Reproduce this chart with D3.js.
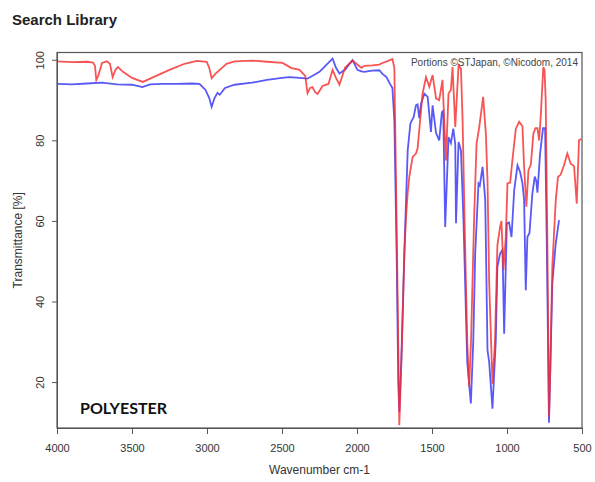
<!DOCTYPE html>
<html>
<head>
<meta charset="utf-8">
<script src="https://cdn.jsdelivr.net/npm/d3@7"></script>
<style>
  body { margin: 0; background: #fff; }
  text { font-family: "Liberation Sans", Arial, sans-serif; }
</style>
</head>
<body>
<div id="chart"></div>
<script>
// wavenumber (cm-1) and transmittance (%)
var sampleWave = [4000, 3900, 3800, 3760, 3747, 3738, 3725, 3700, 3667, 3647, 3629, 3610, 3594, 3560, 3500, 3428, 3350, 3250, 3150, 3068,
  3002, 2985, 2969, 2945, 2915, 2870, 2816, 2700, 2600, 2496, 2440, 2383, 2345, 2330, 2313, 2297, 2280, 2263, 2230, 2190,
  2163, 2140, 2117, 2080, 2030, 2000, 1971, 1950, 1900, 1851, 1831, 1800, 1764, 1751, 1740, 1725, 1718, 1700, 1684, 1673,
  1662, 1651, 1640, 1629, 1607, 1596, 1585, 1563, 1540, 1518, 1496, 1473, 1452, 1430, 1407, 1390, 1374, 1363, 1345, 1323,
  1307, 1296, 1280, 1265, 1252, 1240, 1219, 1203, 1185, 1159, 1141, 1130, 1119, 1097, 1080, 1064, 1046, 1037, 1024, 1008,
  997, 979, 964, 941, 919, 897, 886, 871, 857, 841, 824, 810, 797, 786, 775, 758, 750, 742, 731, 720,
  710, 698, 675, 660, 642, 620, 598, 575, 553, 535, 520, 505];
var sampleT = [99.6, 99.4, 99.5, 99.3, 98.5, 95.0, 96.0, 99.2, 99.6, 99.0, 95.7, 97.5, 98.2, 97.0, 95.5, 94.5, 95.8, 97.5, 99.0, 99.7,
  99.5, 98.0, 95.4, 96.5, 97.5, 99.0, 99.6, 99.8, 99.5, 99.2, 98.0, 97.5, 96.0, 91.7, 93.0, 93.2, 92.0, 91.5, 93.5, 94.0,
  97.5, 95.5, 93.8, 98.0, 99.8, 98.9, 98.0, 98.5, 98.6, 98.8, 99.2, 99.6, 100.2, 98.0, 70.0, 30.0, 9.3, 30.0, 52.0, 61.0,
  67.0, 71.0, 73.5, 75.9, 76.7, 78.0, 82.5, 91.6, 95.7, 93.3, 96.2, 90.4, 90.0, 95.0, 75.0, 91.6, 92.5, 98.2, 83.3, 98.6,
  97.8, 85.0, 55.0, 30.0, 18.8, 30.0, 61.0, 79.2, 83.3, 90.8, 81.7, 70.0, 45.0, 19.6, 30.0, 54.0, 58.5, 60.0, 47.8, 56.0,
  69.3, 69.5, 75.1, 82.9, 84.6, 83.5, 73.4, 63.5, 72.6, 74.0, 81.7, 83.0, 83.0, 80.0, 86.0, 98.2, 97.5, 90.0, 55.0, 11.4,
  25.0, 48.6, 65.1, 70.9, 71.5, 73.8, 76.7, 74.2, 73.6, 64.3, 80.0, 80.3];

var libraryWave = [4000, 3900, 3800, 3700, 3600, 3500, 3430, 3380, 3300, 3200, 3100, 3050, 3010, 2985, 2969, 2950, 2930, 2915, 2880, 2816,
  2700, 2600, 2500, 2450, 2383, 2330, 2250, 2163, 2140, 2117, 2080, 2030, 1997, 1971, 1951, 1900, 1851, 1830, 1804, 1780,
  1764, 1751, 1735, 1725, 1718, 1705, 1684, 1662, 1644, 1622, 1607, 1596, 1585, 1573, 1551, 1529, 1507, 1496, 1473, 1452,
  1434, 1425, 1412, 1390, 1374, 1358, 1345, 1340, 1323, 1307, 1290, 1265, 1241, 1225, 1212, 1190, 1181, 1163, 1145, 1130,
  1119, 1097, 1075, 1064, 1046, 1030, 1019, 1001, 986, 970, 952, 930, 913, 897, 886, 875, 864, 850, 831, 815,
  805, 797, 780, 760, 746, 735, 720, 698, 675, 653];
var libraryT = [94.0, 93.9, 94.1, 94.3, 93.9, 93.8, 93.2, 93.9, 94.0, 94.0, 94.1, 94.0, 92.5, 90.5, 88.3, 90.5, 91.8, 91.3, 93.0, 93.8,
  94.3, 95.0, 95.5, 95.7, 95.5, 95.3, 97.0, 100.3, 98.0, 96.6, 97.5, 99.9, 97.5, 97.1, 97.0, 97.3, 97.4, 96.5, 95.7, 94.0,
  93.0, 85.0, 50.0, 20.0, 12.6, 25.0, 52.7, 77.5, 84.2, 85.8, 88.7, 88.9, 85.5, 89.1, 91.6, 90.8, 82.1, 88.7, 81.8, 80.0,
  87.0, 87.3, 58.5, 80.8, 79.3, 82.9, 79.0, 59.4, 79.6, 77.5, 60.0, 25.0, 14.7, 30.0, 52.0, 69.3, 68.8, 73.4, 65.1, 27.9,
  25.0, 13.4, 30.0, 48.6, 51.9, 52.8, 32.0, 59.4, 59.6, 56.0, 67.6, 73.8, 72.2, 69.4, 65.2, 42.8, 56.0, 57.0, 66.8, 71.0,
  70.0, 67.0, 76.5, 83.0, 83.0, 55.0, 9.9, 44.5, 54.4, 60.2];

var xTicks = [4000, 3500, 3000, 2500, 2000, 1500, 1000, 500];
var yTicks = [20, 40, 60, 80, 100];

(function() {
  var width = 595, height = 482;
  var left = 57, right = 582, top = 52.5, bottom = 428;

  var svg = d3.select("#chart").append("svg")
              .attr("width", width)
              .attr("height", height);

  var x = d3.scaleLinear().domain([4000, 500]).range([left, right]);
  var y = d3.scaleLinear().domain([8.6, 101.8]).range([bottom, top]);

  // title
  svg.append("text")
     .attr("x", 12).attr("y", 25)
     .style("font-size", "15px").style("font-weight", "bold")
     .attr("fill", "#222")
     .text("Search Library");

  var plot = svg.append("g");

  var line = d3.line()
               .x(function(d) { return x(d[0]); })
               .y(function(d) { return y(d[1]); });

  var blue = libraryWave.map(function(w, i) { return [w, libraryT[i]]; });
  var red = sampleWave.map(function(w, i) { return [w, sampleT[i]]; });

  plot.append("path").datum(blue)
      .attr("d", line)
      .attr("fill", "none")
      .attr("stroke", "#2f2ff5")
      .attr("stroke-opacity", 0.8)
      .attr("stroke-width", 1.8);

  plot.append("path").datum(red)
      .attr("d", line)
      .attr("fill", "none")
      .attr("stroke", "#f52a2a")
      .attr("stroke-opacity", 0.8)
      .attr("stroke-width", 1.8);

  // frame
  svg.append("rect")
     .attr("x", left).attr("y", top)
     .attr("width", right - left).attr("height", bottom - top)
     .attr("fill", "none")
     .attr("stroke", "#555")
     .attr("stroke-width", 1.2);

  var xAxis = svg.append("g")
     .attr("transform", "translate(0," + bottom + ")")
     .call(d3.axisBottom(x).tickValues(xTicks).tickFormat(d3.format("d"))
             .tickSize(6).tickPadding(10).tickSizeOuter(0));
  xAxis.select(".domain").attr("stroke", "#555");
  xAxis.selectAll(".tick line").attr("stroke", "#555");
  xAxis.selectAll("text").style("font-size", "11px").attr("fill", "#333");

  var yAxis = svg.append("g")
     .attr("transform", "translate(" + left + ",0)")
     .call(d3.axisLeft(y).tickValues(yTicks).tickSize(5).tickSizeOuter(0));
  yAxis.select(".domain").attr("stroke", "#555");
  yAxis.selectAll(".tick line").attr("stroke", "#555");
  // rotated tick labels, as in the original
  yAxis.selectAll(".tick text")
       .style("font-size", "11px").attr("fill", "#333")
       .attr("text-anchor", "middle")
       .attr("transform", "rotate(-90)")
       .attr("x", 0).attr("y", -17).attr("dy", "0.32em");

  svg.append("text")
     .attr("transform", "translate(22," + ((top + bottom) / 2) + ") rotate(-90)")
     .attr("text-anchor", "middle")
     .style("font-size", "12px").attr("fill", "#333")
     .text("Transmittance [%]");

  svg.append("text")
     .attr("x", (left + right) / 2).attr("y", 474)
     .attr("text-anchor", "middle")
     .style("font-size", "12px").attr("fill", "#333")
     .text("Wavenumber cm-1");

  svg.append("text")
     .attr("x", 578).attr("y", 66)
     .attr("text-anchor", "end")
     .style("font-size", "10px").attr("fill", "#444")
     .text("Portions \u00a9STJapan, \u00a9Nicodom, 2014");

  svg.append("text")
     .attr("x", 80).attr("y", 414)
     .style("font-family", "Lato, 'Open Sans', sans-serif")
     .style("font-size", "16px").style("font-weight", "bold")
     .attr("fill", "#111")
     .text("POLYESTER");
})();
</script>
</body>
</html>
